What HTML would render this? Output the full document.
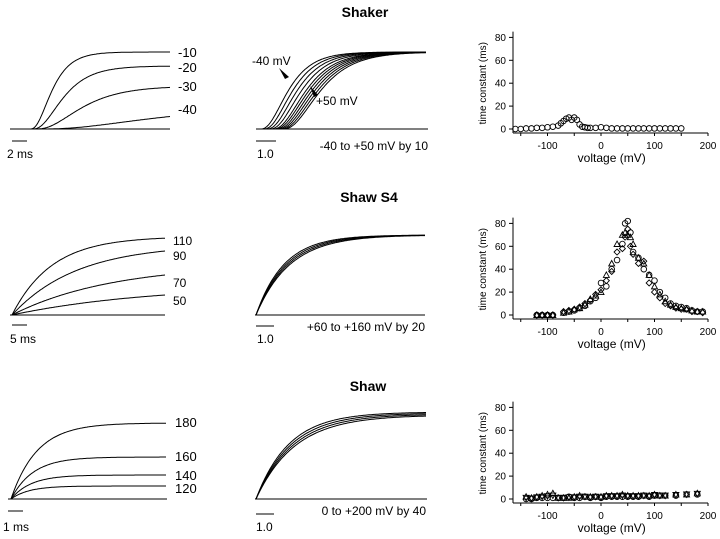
<!DOCTYPE html>
<html><head><meta charset="utf-8"><style>
html,body{margin:0;padding:0;background:#fff}
svg{display:block;font-family:"Liberation Sans",sans-serif}
</style></head><body>
<svg id="fig" width="720" height="539" viewBox="0 0 720 539">
<text x="365" y="17" font-size="14" font-weight="bold" text-anchor="middle">Shaker</text>
<text x="369" y="202" font-size="14" font-weight="bold" text-anchor="middle">Shaw S4</text>
<text x="368" y="391" font-size="14" font-weight="bold" text-anchor="middle">Shaw</text>
</svg>
<script>
// ---- trace data ----
const shakerLabels = ["-10","-20","-30","-40"];
const shakerAmp = [77, 63, 43, 22];
const shakerTau = [14, 20, 30, 75];
const shakerDelay = [18, 20, 23, 26];
const shakerNormDelays = [0, 3, 6, 9, 12, 14, 16, 18, 20, 22];
const s4Labels = ["110","90","70","50"];
const s4Amp = [78, 64, 40, 20];
const s4Tau = [40, 65, 100, 140];
const shawLabels = ["180","160","140","120"];
const shawAmp = [76, 42, 24, 13];
const shawTau = [26, 22, 20, 18];
// ---- time-constant scatter data (voltage mV, tau ms) ----
const shakerV = [-160,-150,-140,-130,-120,-110,-100,-90,-80,-75,-70,-65,-60,-55,-50,-45,-40,-35,-30,-25,-20,-10,0,10,20,30,40,50,60,70,80,90,100,110,120,130,140,150];
const shakerT = [0,0,0.5,0.5,1,1,1.5,2,3,5,7,9,10,8,10,8,4,2,1.5,1,1,1,1.5,1,0.5,0.5,0.5,0.5,0.5,0.5,0.5,0.5,0.5,0.5,0.5,0.5,0.5,0.5];
const s4V = [-120,-110,-100,-90,-70,-60,-50,-40,-30,-20,-10,0,10,20,30,40,45,50,55,60,70,80,90,100,110,120,130,140,150,160,170,180,190];
const s4Circ = [0,0,0,0,2,3,4,6,8,12,15,28,25,40,48,62,80,82,72,55,50,40,35,30,20,15,10,8,7,6,4,3,3];
const s4Diam = [0,0,0,0,3,4,5,7,10,13,18,22,30,38,55,58,68,75,60,53,45,47,28,20,15,10,8,6,5,5,3,3,2];
const s4Tri = [0,0,0,0,2,3,5,6,9,14,17,20,35,45,62,70,72,70,68,62,50,45,35,25,18,12,9,7,6,5,4,3,3];
const shawV = [-140,-130,-120,-110,-100,-90,-80,-70,-60,-50,-40,-30,-20,-10,0,10,20,30,40,50,60,70,80,90,100,110,120,140,160,180];
const shawA = [2,1,2,3,4,5,1,1,1,2,3,2,2,2,2,3,3,3,4,3,3,3,3,3,4,3,3,4,4,5];
const shawB = [0,0,1,1,1,1,1,1,2,1,1,2,1,2,1,2,2,2,2,2,2,2,3,2,3,3,3,3,4,4];

const svg = document.getElementById('fig');
const NS = 'http://www.w3.org/2000/svg';
function mk(tag, attrs){const e=document.createElementNS(NS,tag);for(const k in attrs)e.setAttribute(k,attrs[k]);svg.appendChild(e);return e;}
function txt(x,y,s,size,anchor){const t=mk('text',{x:x,y:y,'font-size':size||13,'text-anchor':anchor||'start'});t.textContent=s;return t;}
function line(x1,y1,x2,y2,w){return mk('line',{x1,y1,x2,y2,stroke:'#000','stroke-width':w||1});}
function trace(x0,x1,y0,fn){let d='';for(let x=x0;x<=x1;x+=1){const y=y0-fn(x-x0);d+=(d?'L':'M')+x+','+y.toFixed(1);}return mk('path',{d,fill:'none',stroke:'#000','stroke-width':1});}

let e;
e=line(10,129,170,129);
shakerAmp.forEach((a,i)=>{
  e=trace(12,170,129,t=>{const tt=Math.max(0,t-shakerDelay[i]);return a*Math.pow(1-Math.exp(-tt/shakerTau[i]),3);});
  
  e=txt(178,[57,72,91,114][i],shakerLabels[i],13);
  
});
e=line(12,141,27,141);
e=txt(7,158,'2 ms',12);

e=line(256,129,428,129);
shakerNormDelays.forEach(dl=>{
  e=trace(257,426,129,t=>{const tt=Math.max(0,t-3-dl);return 77*Math.pow(1-Math.exp(-tt/(18+dl*0.3)),3);});
  
});
e=txt(252,65,'-40  mV',12);
e=mk('polygon',{points:'279,68 289,77 285,79'});
e=mk('polygon',{points:'310,86 318,95 314,97'});
e=txt(316,105,'+50  mV',12);
e=txt(428,150,'-40  to  +50  mV  by  10',12,'end');
e=line(256,141,276,141);
e=txt(257,158,'1.0',12);

e=line(10,315,165,315);
s4Amp.forEach((a,i)=>{
  e=trace(12,165,315,t=>a*(1-Math.exp(-t/s4Tau[i]))/(1-Math.exp(-153/s4Tau[i]))*(i==0?0.985:1));
  
  e=txt(173,[245,260,287,305][i],s4Labels[i],12);
  
});
e=line(12,325,27,325);
e=txt(10,343,'5 ms',12);

e=line(255,315,425,315);
[28,30,32,34].forEach(tau=>{
  e=trace(256,425,315,t=>80*(1-Math.exp(-t/tau)));
  
});
e=txt(425,331,'+60  to  +160  mV  by  20',12,'end');
e=line(256,326,274,326);
e=txt(257,343,'1.0',12);

e=line(8,499,167,499);
shawAmp.forEach((a,i)=>{
  e=trace(11,166,499,t=>a*(1-Math.exp(-t/shawTau[i])));
  
  e=txt(175,[427,461,480,493][i],shawLabels[i],13);
  
});
e=line(8,511,23,511);
e=txt(3,531,'1 ms',12);

e=line(255,499,427,499);
[33,35,37,39].forEach((tau,i)=>{
  e=trace(256,426,499,t=>(87-i)*(1-Math.exp(-t/tau)));
  
});
e=txt(426,515,'0  to  +200  mV  by  40',12,'end');
e=line(256,514,274,514);
e=txt(256,531,'1.0',12);

const xTicks=[-100,0,100,200], yTicks=[0,20,40,60,80];
function panel(name,y0,xAxisY,series){
  const xs=v=>601+v*0.535, ys=t=>y0-t*1.145;
  e=line(513,ys(85),513,xAxisY);
  e=line(513,xAxisY,708,xAxisY);
  yTicks.forEach(t=>{line(509,ys(t),513,ys(t));e=txt(506,ys(t)+3.5,String(t),10,'end');});
  [-150,-100,-50,0,50,100,150,200].forEach(v=>line(xs(v),xAxisY,xs(v),xAxisY+3));
  xTicks.forEach(v=>{e=txt(xs(v),xAxisY+16,String(v),10,'middle');});
  e=txt(xs(20),xAxisY+29,'voltage  (mV)',12,'middle');
  const yc=(ys(0)+ys(80))/2;
  e=txt(0,0,'time  constant  (ms)',10,'middle');e.setAttribute('transform','translate(486,'+yc+') rotate(-90)');
  
  series.forEach(s=>{
    s.v.forEach((v,i)=>{
      const x=xs(v),y=ys(s.t[i]);let m;
      if(s.shape==='o')m=mk('circle',{cx:x,cy:y,r:2.8,fill:'none',stroke:'#000','stroke-width':0.9});
      else if(s.shape==='d')m=mk('polygon',{points:`${x},${y-3} ${x+3},${y} ${x},${y+3} ${x-3},${y}`,fill:'none',stroke:'#000','stroke-width':0.9});
      else if(s.shape==='t')m=mk('polygon',{points:`${x},${y-3} ${x+3},${y+2.5} ${x-3},${y+2.5}`,fill:'none',stroke:'#000','stroke-width':0.9});
      else m=mk('polygon',{points:`${x-3},${y-2.5} ${x+3},${y-2.5} ${x},${y+3}`,fill:'none',stroke:'#000','stroke-width':0.9});
      
      
    });
  });
}
panel('shaker-tau',129,133,[{v:shakerV,t:shakerT,shape:'o'}]);
panel('s4-tau',315,319,[{v:s4V,t:s4Circ,shape:'o'},{v:s4V,t:s4Diam,shape:'d'},{v:s4V,t:s4Tri,shape:'t'}]);
panel('shaw-tau',499,503,[{v:shawV,t:shawA,shape:'t'},{v:shawV,t:shawB,shape:'o'},{v:shawV,t:shawA.map((a,i)=>(a+shawB[i])/2),shape:'v'}]);
</script>
</body></html>
